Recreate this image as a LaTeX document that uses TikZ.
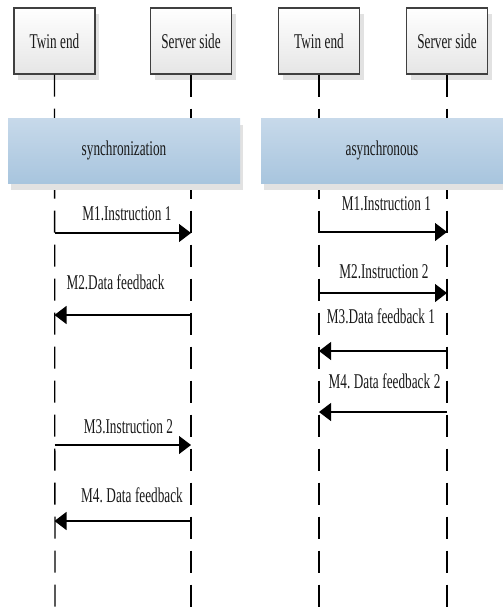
\documentclass[tikz,border=0pt]{standalone}
\usepackage{fontspec}
\setmainfont{Liberation Serif}[FakeStretch=0.63]
\usetikzlibrary{arrows.meta,shadows}
\definecolor{bandtop}{RGB}{199,217,234}
\definecolor{bandbot}{RGB}{168,197,222}
\definecolor{shadowgray}{RGB}{226,226,226}
\definecolor{boxline}{RGB}{64,64,64}
\definecolor{txt}{RGB}{25,25,25}
\frenchspacing
\newcommand{\diagfont}{\fontsize{21}{23}\selectfont\frenchspacing\spaceskip=0.17em plus 0.05em\relax}
\begin{document}
\begin{tikzpicture}[x=1pt,y=-1pt,
  pbox/.style={draw=boxline,line width=1.1pt,top color=white,bottom color=black!10,
    minimum width=81pt,minimum height=66pt,inner sep=0pt,font=\diagfont,text=txt,
    drop shadow={shadow xshift=4pt,shadow yshift=-6pt,fill=shadowgray,opacity=1}},
  band/.style={top color=bandtop,bottom color=bandbot,minimum height=65pt,inner sep=0pt,
    font=\diagfont,text=txt,
    drop shadow={shadow xshift=3pt,shadow yshift=-7pt,fill=shadowgray,opacity=1}},
  life/.style={line width=1.3pt,black,dash pattern=on 22pt off 12pt},
  msg/.style={line width=1.2pt,-{Triangle[length=12pt,width=18pt]}},
  lbl/.style={anchor=base,inner sep=0pt,font=\diagfont,text=txt}]
\useasboundingbox[fill=white] (0,0) rectangle (503,613);
% participants
\node[pbox] (t1) at (54.5,41) {Twin end};
\node[pbox] (s1) at (191,41) {Server side};
\node[pbox] (t2) at (319,41) {Twin end};
\node[pbox] (s2) at (447,41) {Server side};
% lifelines
\coordinate (t1e) at (55,613);
\coordinate (s1e) at (191,613);
\coordinate (t2e) at (319,613);
\coordinate (s2e) at (447,613);
\draw[life] (t1.south) -- (t1e);
\draw[life] (s1.south) -- (s1e);
\draw[life] (t2.south) -- (t2e);
\draw[life] (s2.south) -- (s2e);
% bands
\begin{scope}
\clip (0,0) rectangle (503,613);
\node[band,minimum width=232pt] (b1) at (124,150.5) {synchronization};
\node[band,minimum width=242pt] (b2) at (382,150.5) {asynchronous};
\end{scope}
% synchronization messages
\node[lbl] (l1) at (127,220) {M1.Instruction 1};
\draw[msg] (t1.south |- 0,233) -- (s1.south |- 0,233);
\node[lbl] (l2) at (115.5,289) {M2.Data feedback};
\draw[msg] (s1.south |- 0,315) -- (t1.south |- 0,315);
\node[lbl] (l3) at (128.5,433) {M3.Instruction 2};
\draw[msg] (t1.south |- 0,445) -- (s1.south |- 0,445);
\node[lbl] (l4) at (132,502) {M4. Data feedback};
\draw[msg] (s1.south |- 0,521) -- (t1.south |- 0,521);
% asynchronous messages
\node[lbl] (r1) at (386.5,210) {M1.Instruction 1};
\draw[msg] (t2.south |- 0,232) -- (s2.south |- 0,232);
\node[lbl] (r2) at (384,278) {M2.Instruction 2};
\draw[msg] (t2.south |- 0,293) -- (s2.south |- 0,293);
\node[lbl] (r3) at (381,323) {M3.Data feedback 1};
\draw[msg] (s2.south |- 0,351) -- (t2.south |- 0,351);
\node[lbl] (r4) at (384.5,388) {M4. Data feedback 2};
\draw[msg] (s2.south |- 0,412) -- (t2.south |- 0,412);
\end{tikzpicture}
\end{document}
